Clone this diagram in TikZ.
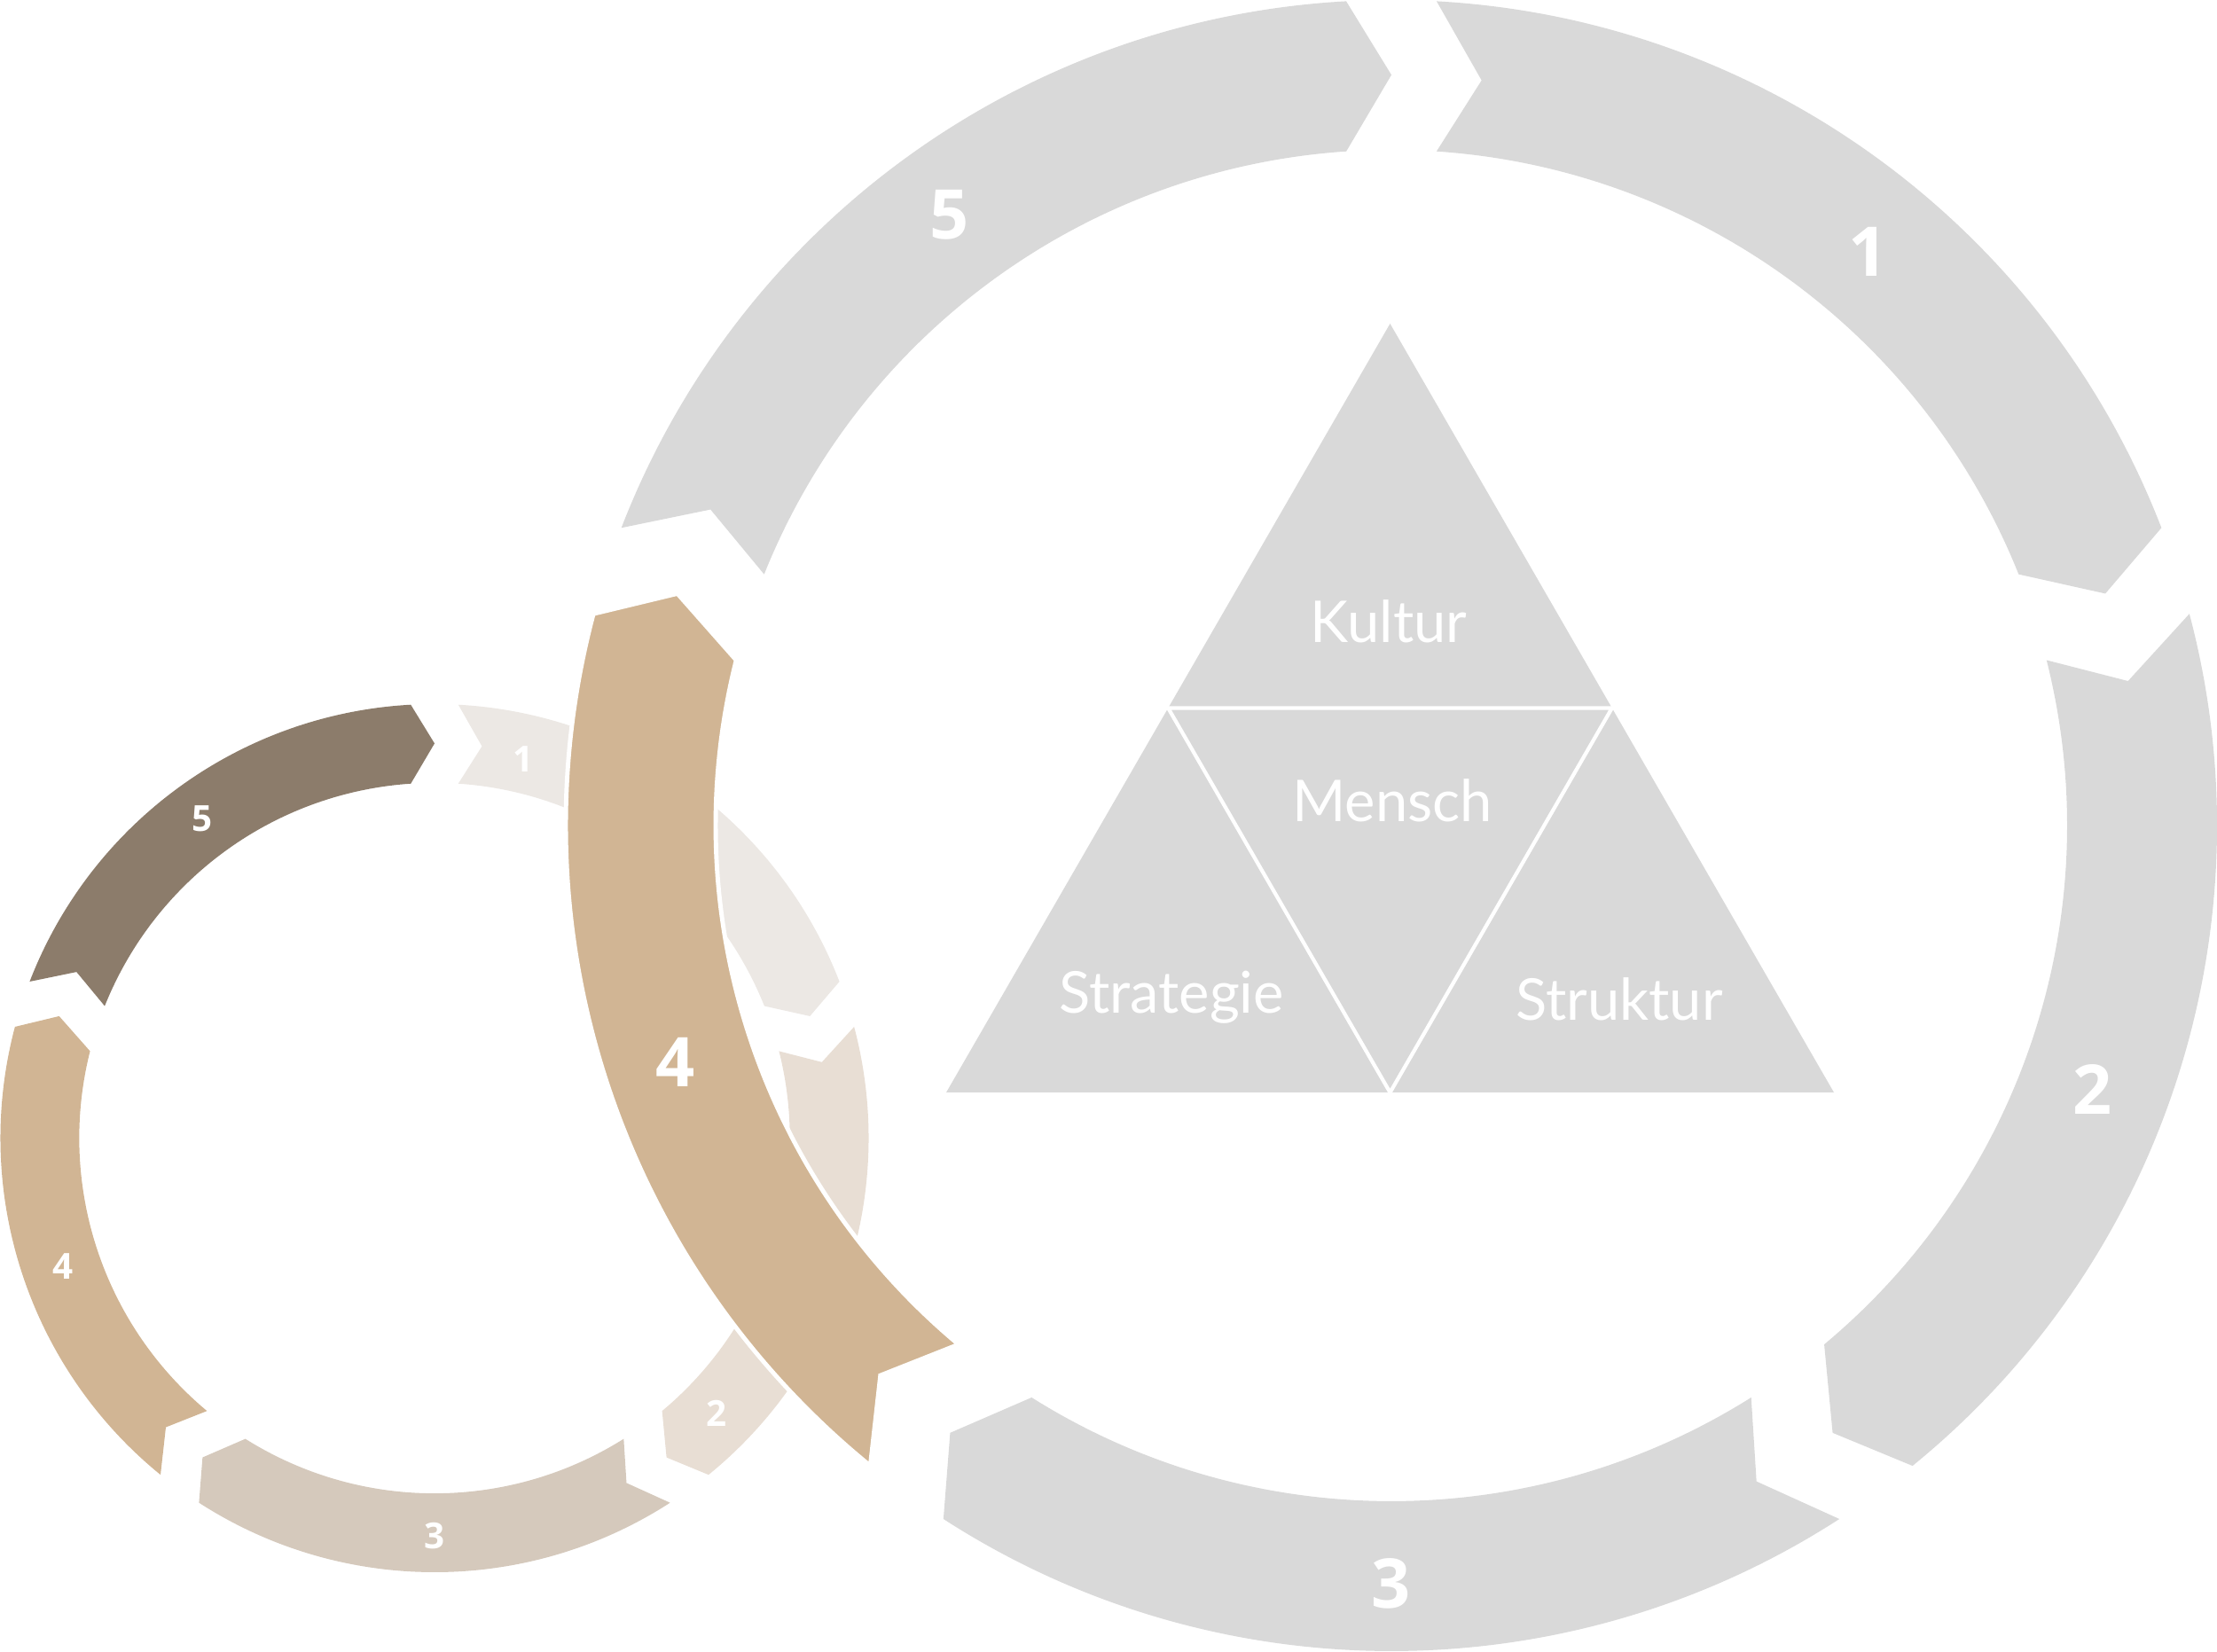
\documentclass[tikz,border=0pt]{standalone}
\usepackage{fontspec}
\setmainfont{Lato}
\newfontfamily\numfont{Open Sans}
\usetikzlibrary{calc}
\definecolor{ringgray}{HTML}{D9D9D9}
\definecolor{ringtan}{HTML}{D1B594}
\definecolor{sm1}{HTML}{ECE8E4}
\definecolor{sm2}{HTML}{E8DED4}
\definecolor{sm3}{HTML}{D5C9BC}
\definecolor{sm5}{HTML}{8C7C6B}
\tikzset{
  seglabel/.style={text=white, font=\numfont\fontsize{22}{24}\selectfont\bfseries, inner sep=0pt},
  smalllabel/.style={text=white, font=\numfont\fontsize{11.5}{13}\selectfont\bfseries, inner sep=0pt},
  tritext/.style={text=white, font=\fontsize{18.5}{20}\selectfont, inner sep=0pt, anchor=base},
  triline/.style={draw=white, line width=1.2pt},
}
% one arrow segment of a ring (radius 9.31/7.62), #1 = start angle, #2 = options
\newcommand{\ringseg}[2]{%
  \fill[#2] (#1-3.14:9.31) arc[start angle=#1-3.14, end angle=#1-72+3.14, radius=9.31]
    -- (#1-72:8.465) -- (#1-72+3.83:7.62)
    arc[start angle=#1-72+3.83, end angle=#1-3.83, radius=7.62]
    -- (#1-6.9:8.465) -- cycle;}

\begin{document}
\begin{tikzpicture}
  \useasboundingbox (0,0) rectangle (25,18.62);
  \coordinate (cbig) at (15.69,9.31);
  \coordinate (csmall) at (4.90,5.785);

  % --- small ring
  \begin{scope}[shift={(csmall)}, scale=0.5258]
    \ringseg{90}{sm1}
    \ringseg{18}{sm2}
    \ringseg{-54}{sm3}
    \ringseg{-126}{ringtan}
    \ringseg{-198}{sm5}
  \end{scope}
  \node[smalllabel] (sn1) at ($(csmall)+(76.8:4.39)$) {1};
  \node[smalllabel] (sn2) at ($(csmall)+(-44.3:4.44)$) {2};
  \node[smalllabel] (sn3) at ($(csmall)+(-90:4.49)$) {3};
  \node[smalllabel] (sn4) at ($(csmall)+(199:4.43)$) {4};
  \node[smalllabel] (sn5) at ($(csmall)+(126:4.45)$) {5};

  % --- big ring
  \begin{scope}[shift={(cbig)}]
    \ringseg{90}{ringgray}
    \ringseg{18}{ringgray}
    \ringseg{-54}{ringgray}
    \ringseg{-198}{ringgray}
    \ringseg{-126}{ringtan, draw=white, line width=1.4pt}
  \end{scope}
  \node[seglabel] (n1) at ($(cbig)+(50.3:8.41)$) {1};
  \node[seglabel] (n2) at ($(cbig)+(-20.6:8.45)$) {2};
  \node[seglabel] (n3) at ($(cbig)+(-90:8.55)$) {3};
  \node[seglabel] (n4) at ($(cbig)+(198.3:8.50)$) {4};
  \node[seglabel] (n5) at ($(cbig)+(125.9:8.50)$) {5};

  % --- triangle
  \coordinate (ttop) at (15.675,14.97);
  \coordinate (tbl) at (10.67,6.30);
  \coordinate (tbr) at (20.68,6.30);
  \fill[ringgray] (ttop) -- (tbl) -- (tbr) -- cycle;
  \coordinate (mleft) at ($(ttop)!0.5!(tbl)$);
  \coordinate (mright) at ($(ttop)!0.5!(tbr)$);
  \coordinate (mbase) at ($(tbl)!0.5!(tbr)$);
  \draw[triline] (mleft) -- (mright) -- (mbase) -- cycle;
  \node[tritext] (kultur) at (15.66,11.37) {Kultur};
  \node[tritext] (mensch) at (15.70,9.35) {Mensch};
  \node[tritext] (strategie) at (13.21,7.19) {Strategie};
  \node[tritext] (struktur) at (18.26,7.11) {Struktur};
\end{tikzpicture}
\end{document}
